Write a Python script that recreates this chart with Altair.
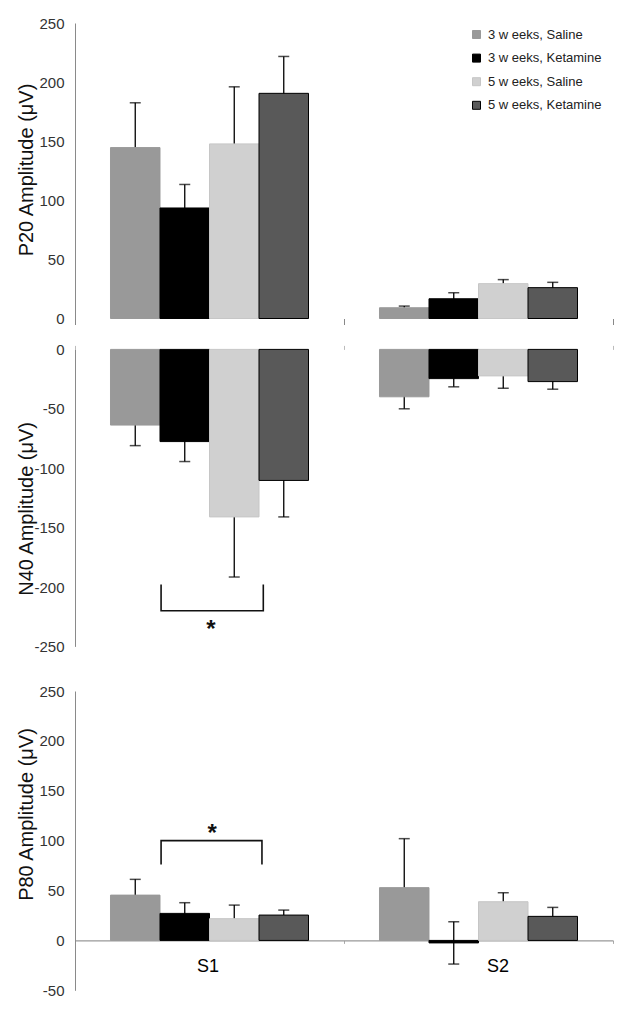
import altair as alt
import pandas as pd

FONT = "Liberation Sans"

groups = ["S1", "S2"]
conditions = ["3 w eeks, Saline", "3 w eeks, Ketamine", "5 w eeks, Saline", "5 w eeks, Ketamine"]

# P20 amplitude (mean, SEM)
p20_s1_mean = [144.6, 93.5, 147.7, 190.5]
p20_s1_sem = [37.9, 19.9, 48.3, 31.2]
p20_s2_mean = [9.1, 16.7, 29.5, 26.1]
p20_s2_sem = [1.4, 5.1, 3.4, 4.5]

# N40 amplitude
n40_s1_mean = [-63.7, -77.6, -141.0, -110.3]
n40_s1_sem = [17.3, 16.8, 50.6, 30.7]
n40_s2_mean = [-39.9, -24.6, -22.3, -27.1]
n40_s2_sem = [10.1, 6.9, 10.4, 6.4]

# P80 amplitude
p80_s1_mean = [45.4, 27.1, 21.8, 25.4]
p80_s1_sem = [15.8, 10.7, 13.6, 5.0]
p80_s2_mean = [52.9, -2.5, 38.8, 24.1]
p80_s2_sem = [49.1, 21.2, 9.0, 9.0]

p20_ticks = [0, 50, 100, 150, 200, 250]
n40_ticks = [0, -50, -100, -150, -200, -250]
p80_ticks = [-50, 0, 50, 100, 150, 200, 250]

# significance brackets (x in category units: S1 spans 0..1, S2 spans 1..2)
n40_bracket_x = [0.32, 0.32, 0.70, 0.70]
n40_bracket_y = [-198, -220, -220, -198]
n40_star_x = [0.505]
n40_star_y = [-236]
p80_bracket_x = [0.32, 0.32, 0.695, 0.695]
p80_bracket_y = [76, 100, 100, 76]
p80_star_x = [0.51]
p80_star_y = [107]

bar_fill = ["#999999", "#000000", "#d0d0d0", "#595959"]
bar_stroke = ["#999999", "#000000", "#c6c6c6", "#000000"]


def make_df(s1_mean, s1_sem, s2_mean, s2_sem):
    rows = []
    for g, means, sems in (("S1", s1_mean, s1_sem), ("S2", s2_mean, s2_sem)):
        for c, m, s in zip(conditions, means, sems):
            rows.append({"group": g, "cond": c, "mean": m, "lo": m - s, "hi": m + s})
    return pd.DataFrame(rows)


def panel(df, title, domain, ticks, height, title_y, x_axis, bracket=None, legend=False):
    base = alt.Chart(df)
    x = alt.X("group:N", sort=groups, scale=alt.Scale(paddingInner=0, paddingOuter=0),
              axis=x_axis, title=None)
    xo = alt.XOffset("cond:N", sort=conditions,
                     scale=alt.Scale(paddingInner=0, paddingOuter=0.717))
    yscale = alt.Scale(domain=domain, nice=False, zero=False)
    yaxis = alt.Axis(values=ticks, title=title, grid=False, ticks=False,
                     domainColor="#8a8a8a", domainWidth=1,
                     labelExpr="replace(datum.label, '\u2212', '-')",
                     labelFont=FONT, labelFontSize=15, labelColor="#333333", labelPadding=11,
                     titleFont=FONT, titleFontSize=20, titleFontWeight="normal",
                     titleColor="#111111", titleX=-49, titleY=title_y,
                     titleBaseline="middle", titleAngle=270)
    if legend:
        leg = alt.Legend(orient="none", legendX=395, legendY=5, title=None,
                         symbolType="square", symbolSize=64, symbolStrokeWidth=1,
                         labelFont=FONT, labelFontSize=13, labelColor="#222222",
                         rowPadding=9.6, labelOffset=5, padding=0)
    else:
        leg = None
    fill = alt.Fill("cond:N", sort=conditions,
                    scale=alt.Scale(domain=conditions, range=bar_fill), legend=leg)
    stroke = alt.Stroke("cond:N", sort=conditions,
                        scale=alt.Scale(domain=conditions, range=bar_stroke), legend=leg)

    err = base.mark_rule(color="black", strokeWidth=1.3).encode(
        x=x, xOffset=xo, y=alt.Y("lo:Q", scale=yscale, axis=yaxis, title=title), y2="hi:Q")
    caps = base.transform_fold(["lo", "hi"], as_=["end", "val"]).mark_tick(
        color="black", thickness=1.5, size=11).encode(
        x=x, xOffset=xo, y=alt.Y("val:Q", scale=yscale, axis=yaxis, title=title))
    bars = base.mark_bar(strokeWidth=1).encode(
        x=x, xOffset=xo, y=alt.Y("mean:Q", scale=yscale, axis=yaxis, title=title),
        y2=alt.datum(0), fill=fill, stroke=stroke)
    main = alt.layer(err, caps, bars)
    if bracket is None:
        return main.properties(width=538, height=height)
    bx, by, sx, sy = bracket
    xq = alt.Scale(domain=[0, 2], nice=False, zero=False)
    bdf = pd.DataFrame({"bx": bx, "by": by, "k": list(range(len(bx)))})
    sdf = pd.DataFrame({"sx": sx, "sy": sy, "t": ["*"] * len(sx)})
    br = alt.Chart(bdf).mark_line(color="#111111", strokeWidth=1.6).encode(
        x=alt.X("bx:Q", scale=xq, axis=None),
        y=alt.Y("by:Q", scale=yscale, axis=yaxis, title=title),
        order="k:Q")
    star = alt.Chart(sdf).mark_text(font=FONT, fontSize=24, fontWeight="bold",
                                    color="#111111").encode(
        x=alt.X("sx:Q", scale=xq, axis=None),
        y=alt.Y("sy:Q", scale=yscale, axis=yaxis, title=title),
        text="t:N")
    ann = alt.layer(br, star)
    return alt.layer(main, ann).resolve_scale(x="independent").properties(width=538, height=height)


top_axis = alt.Axis(orient="bottom", labels=False, domain=False, ticks=True, tickBand="extent",
                    tickColor="#888888", tickSize=6, title=None)
mid_axis = alt.Axis(orient="top", labels=False, domain=False, ticks=True, tickBand="extent",
                    tickColor="#bbbbbb", tickSize=4, title=None)
bot_axis = alt.Axis(orient="bottom", offset=-49.9, domain=True, domainColor="#999999",
                    domainWidth=1.2, ticks=True, tickBand="extent", tickColor="#aaaaaa",
                    tickSize=3, labelFont=FONT, labelFontSize=18, labelColor="#000000",
                    labelAngle=0, labelPadding=14.5,
                    labelOffset=alt.condition("datum.value == 'S2'", alt.value(19), alt.value(-2)),
                    title=None)

p20 = panel(make_df(p20_s1_mean, p20_s1_sem, p20_s2_mean, p20_s2_sem),
            "P20 Amplitude (\u03bcV)", [0, 250], p20_ticks, 295.5, 146.5, top_axis, legend=True)
n40 = panel(make_df(n40_s1_mean, n40_s1_sem, n40_s2_mean, n40_s2_sem),
            "N40 Amplitude (\u03bcV)", [-250, 0], n40_ticks, 297, 159, mid_axis,
            bracket=(n40_bracket_x, n40_bracket_y, n40_star_x, n40_star_y))
p80 = panel(make_df(p80_s1_mean, p80_s1_sem, p80_s2_mean, p80_s2_sem),
            "P80 Amplitude (\u03bcV)", [-50, 250], p80_ticks, 299.3, 123, bot_axis,
            bracket=(p80_bracket_x, p80_bracket_y, p80_star_x, p80_star_y))

upper = alt.vconcat(p20, n40, spacing=15.4).resolve_legend(fill="independent", stroke="independent")
chart = alt.vconcat(upper, p80, spacing=29).resolve_legend(
    fill="independent", stroke="independent").properties(
    padding={"left": 8, "top": 8, "right": 5, "bottom": 5}).configure(
    font=FONT).configure_view(stroke=None, strokeWidth=0)

chart.save("out.html", embed_options={"renderer": "svg", "actions": False})
